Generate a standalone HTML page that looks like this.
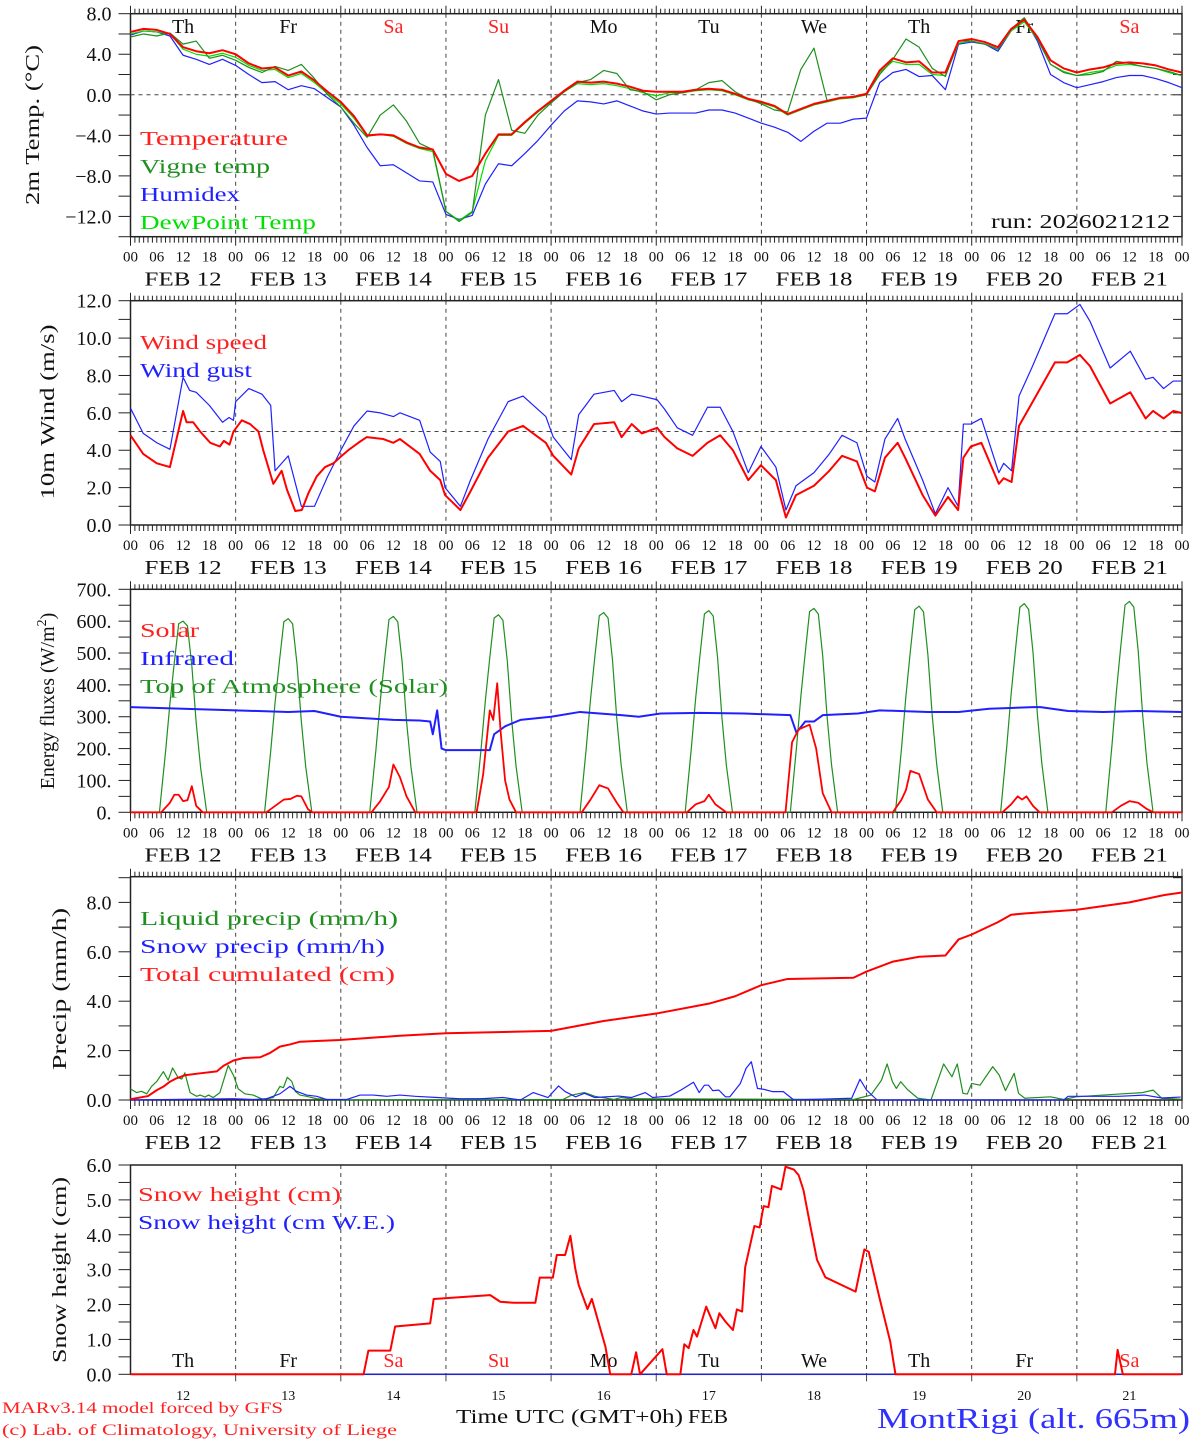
<!DOCTYPE html>
<html><head><meta charset="utf-8"><title>MontRigi forecast</title>
<style>
html,body{margin:0;padding:0;background:#fff;}
svg{display:block;}
text{font-family:"Liberation Serif",serif;}
</style></head>
<body>
<svg id="chart" xmlns="http://www.w3.org/2000/svg" width="1194" height="1440" viewBox="0 0 1194 1440"></svg>
<script>
// ---------- DATA ----------
const dayNames = ["Th","Fr","Sa","Su","Mo","Tu","We","Th","Fr","Sa"];
const dayNums = ["12","13","14","15","16","17","18","19","20","21"];
const hourTickLabels = ["00","06","12","18"];
const tempTicks = [8,4,0,-4,-8,-12];
const windTicks = [12,10,8,6,4,2,0];
const energyTicks = [700,600,500,400,300,200,100,0];
const precipTicks = [8,6,4,2,0];
const snowTicks = [6,5,4,3,2,1,0];

// temperature: 3-hourly from FEB 12 00 UTC
const tempHours = [0,3,6,9,12,15,18,21,24,27,30,33,36,39,42,45,48,51,54,57,60,63,66,69,72,75,78,81,84,87,90,93,96,99,102,105,108,111,114,117,120,123,126,129,132,135,138,141,144,147,150,153,156,159,162,165,168,171,174,177,180,183,186,189,192,195,198,201,204,207,210,213,216,219,222,225,228,231,234,237,240];
const temperature = [6.2,6.5,6.4,6.0,4.7,4.3,4.1,4.4, 4.0,3.1,2.6,2.7,1.9,2.3,1.4,0.3, -0.7,-2.1,-4.0,-3.9,-4.0,-4.7,-5.2,-5.4, -7.8,-8.5,-8.0,-5.8,-3.9,-3.9,-2.7,-1.6, -0.6,0.4,1.3,1.2,1.3,1.1,0.8,0.4, 0.3,0.3,0.3,0.5,0.6,0.5,0.1,-0.4, -0.7,-1.1,-1.9,-1.4,-0.9,-0.6,-0.3,-0.2, 0.1,2.4,3.6,3.2,3.3,2.2,2.2,5.3, 5.5,5.2,4.7,6.5,7.4,5.7,3.4,2.6, 2.2,2.5,2.7,3.1,3.2,3.1,2.9,2.5, 2.2];
const vigneTemp = [5.7,6.0,5.8,6.1,5.0,5.3,3.6,3.9, 3.4,2.7,2.2,2.8,2.4,3.0,1.6,0.0, -1.2,-2.8,-4.2,-2.0,-1.0,-2.6,-4.8,-5.4, -11.5,-12.5,-11.6,-2.0,1.5,-3.5,-3.8,-2.0, -0.8,0.3,1.2,1.5,2.4,2.1,0.5,0.3, -0.5,0.0,0.2,0.5,1.2,1.4,0.3,-0.4, -0.9,-1.5,-1.7,2.5,4.6,-0.6,-0.3,-0.2, 0.0,2.0,3.5,5.5,4.7,2.6,1.8,5.3, 5.3,5.0,4.5,6.5,7.6,5.5,3.0,2.2, 1.9,2.0,2.3,3.3,3.1,2.8,2.6,2.3, 1.9];
const humidex = [5.9,6.3,6.2,5.8,3.9,3.5,3.0,3.5, 2.9,2.0,1.2,1.3,0.5,0.9,0.6,-0.3, -1.2,-3.0,-5.2,-7.0,-6.9,-7.7,-8.5,-8.6, -11.8,-12.3,-11.9,-8.8,-6.8,-7.0,-5.8,-4.5, -3.0,-1.6,-0.6,-0.7,-0.9,-0.6,-1.1,-1.6, -1.9,-1.8,-1.8,-1.8,-1.5,-1.5,-1.8,-2.3, -2.8,-3.2,-3.7,-4.6,-3.6,-2.8,-2.8,-2.4, -2.3,1.2,2.2,2.5,1.8,1.9,0.5,5.0, 5.2,5.0,4.3,6.3,7.5,5.3,2.0,1.2, 0.7,1.0,1.3,1.7,1.9,1.9,1.6,1.2, 0.7];
const dewPoint = [6.0,6.3,6.2,6.0,4.5,4.0,3.8,4.1, 3.7,2.9,2.4,2.5,1.7,2.1,1.2,0.1, -0.9,-2.3,-4.1,-3.9,-4.1,-4.8,-5.3,-5.6, -11.5,-12.4,-11.5,-6.5,-4.0,-4.0,-2.8,-1.7, -0.7,0.3,1.1,1.0,1.1,0.9,0.6,0.2, -0.1,0.2,0.2,0.4,0.5,0.4,0.0,-0.5, -0.8,-1.2,-2.0,-1.5,-1.0,-0.7,-0.4,-0.3, 0.0,2.2,3.3,3.0,3.0,2.0,1.9,5.1, 5.3,5.0,4.5,6.3,7.2,5.5,3.0,2.3, 1.9,2.2,2.4,2.9,3.0,2.8,2.6,2.2, 1.9];

// wind
const speedHours = [0,2.9,6,9,12,12.8,14.3,15.9,18.2,20.4,21.3,22.6,23.5,25.4,27.3,29.2,30.3,32.6,34.5,35.7,37.6,39.1,40.6,42.5,44.4,46.3,48.2,49.7,52,53.9,57.7,60,61.5,66,68.4,70.7,71.8,75.3,77.6,81.6,86.2,89.6,94.8,96.5,100.6,102.3,105.8,110.4,112.1,114.4,116.7,120.2,121.9,124.8,128.3,131.7,134.6,137.5,141,143.9,147.3,149.6,151.9,156,159.5,162.4,165.8,168.1,169.9,172.2,175.1,176.8,180.8,183.7,186.6,188.9,190.1,191.8,194.2,195.3,198.2,199.3,201.1,202.8,205.7,211,213.8,216.7,219,223.6,228.2,231.7,233.4,235.8,238,239.8];
const windSpeed = [4.8,3.8,3.3,3.1,6.1,5.5,5.5,5.0,4.4,4.2,4.5,4.3,5.0,5.6,5.4,5.0,4.0,2.2,2.9,1.9,0.75,0.8,1.7,2.6,3.1,3.3,3.7,4.0,4.4,4.7,4.6,4.4,4.6,3.8,2.9,2.4,1.6,0.8,1.8,3.6,5.0,5.3,4.4,3.7,2.7,4.1,5.4,5.5,4.7,5.4,4.9,5.2,4.7,4.1,3.7,4.4,4.8,4.0,2.4,3.2,2.4,0.4,1.6,2.1,2.9,3.7,3.4,2.0,1.8,3.6,4.4,3.6,1.6,0.5,1.5,0.8,3.6,4.2,4.4,3.8,2.2,2.5,2.3,5.3,6.5,8.7,8.7,9.1,8.5,6.5,7.1,5.7,6.1,5.7,6.1,6.0];
const gustHours = [0,2.9,6,9,12,13.5,15,18,21,22.5,23.5,24,27,30,32,33,36,39,42,45,48,51,54,57,60,61.5,66,68.4,70.7,71.8,75.3,77.6,81.6,86.2,89.6,94.8,96.5,100.6,102.3,105.8,110.4,112.1,114.4,116.7,120.2,121.9,124.8,128.3,131.7,134.6,137.5,141,143.9,147.3,149.6,151.9,156,159.5,162.4,165.8,168.1,169.9,172.2,175.1,176.8,180.8,183.7,186.6,188.9,190.1,191.8,194.2,195.3,198.2,199.3,201.1,202.8,205.7,211,213.8,216.7,219,223.6,228.2,231.7,233.4,235.8,238,239.8];
const windGust = [6.25,4.9,4.4,4.05,7.9,7.2,7.1,6.4,5.5,5.75,5.6,6.6,7.3,7.0,6.4,2.9,3.7,1.0,1.0,2.6,4.0,5.3,6.1,6.0,5.8,6.0,5.6,3.9,3.4,2.0,1.0,2.4,4.6,6.6,6.9,5.8,4.7,3.5,5.9,7.0,7.2,6.6,7.0,6.9,6.7,6.2,5.2,4.8,6.3,6.3,5.0,2.8,4.2,3.1,0.8,2.1,2.8,3.8,4.8,4.4,2.6,2.3,4.6,5.7,4.6,2.4,0.6,2.0,1.0,5.4,5.4,5.7,4.9,2.8,3.3,2.9,6.9,8.4,11.3,11.3,11.8,10.9,8.4,9.3,7.8,7.9,7.3,7.7,7.7];

// energy fluxes
const solarHours = [0,7,9,10,11,12,13,14,15,16.5,31,33,35,36.5,38,39,40.5,41.5,55,57,59,60,61.5,63,65,79,80.5,82,82.8,83.7,84.5,85.5,86.5,88,103,105,107,109,111,112.5,127,129,131,132,133.5,135,136,149.5,151,152.5,155,156.5,158,160,174,176,177,178,180,182,184,199,201,202.5,203.5,204.5,206,207.5,224,226,228,230,232,233.5,240];
const solar = [0,0,30,55,55,35,38,82,20,0,0,20,40,42,52,50,10,0,0,35,80,150,110,50,0,0,120,320,290,405,250,100,40,0,0,40,85,75,30,0,0,25,35,55,25,10,0,0,220,260,275,200,60,0,0,40,70,130,120,40,0,0,25,50,40,50,20,0,0,20,35,30,10,0,0];
const infraredHours = [0,12,24,36,42,48,60,66,68.4,69,70,71,72,78,82,83,85.5,89,96,102.6,112,116,121,130,140,150.6,152,154,156,158,166,171,182,189,196,206,207.7,214,222,230,240];
const infrared = [330,325,320,315,318,300,290,288,285,245,320,200,195,195,195,245,270,290,300,315,305,300,310,312,310,305,250,285,285,305,310,320,315,315,325,330,330,318,315,318,315];
const toaHourOfDay = [6.6,8,9,10,11,12,13,14,15,16,17.4];
const toaDay1 = [0,190,342,470,592,600,585,460,280,140,0];
const toaDay2 = [0,192,345,475,598,608,592,466,284,142,0];
const toaDay3 = [0,194,348,480,605,615,598,471,287,144,0];
const toaDay4 = [0,196,351,485,610,620,603,475,290,145,0];
const toaDay5 = [0,198,355,490,617,627,610,480,293,147,0];
const toaDay6 = [0,200,359,495,623,633,616,485,296,148,0];
const toaDay7 = [0,202,363,500,630,640,622,490,299,150,0];
const toaDay8 = [0,204,367,506,636,647,629,495,302,152,0];
const toaDay9 = [0,206,371,512,644,655,637,501,306,154,0];
const toaDay10 = [0,208,375,517,651,662,644,507,309,155,0];

// precipitation
const liquidHours = [0,1.4,2.5,3.7,4.8,6,7.5,8.6,9.6,10.9,11.7,12.4,13.6,15.1,15.9,17,17.8,18.9,20.4,22.3,23.5,24.6,26.1,28,30.3,32.6,34.1,34.9,35.8,36.8,37.6,38.7,40.2,42.5,46.3,98.7,100.7,103.6,106,110.4,111.9,114.3,165.1,169,171.4,172.7,173.9,174.8,175.8,177.3,179.7,182.7,185.6,187.5,188.7,190,191,192,193.9,196.8,198.3,199.7,201.7,202.7,204.1,210,213,215.8,224.6,231,233.4,235.4,239.7];
const liquidPrecip = [0.45,0.3,0.35,0.25,0.55,0.75,1.15,0.8,1.3,0.9,0.85,1.1,0.3,0.15,0.2,0.12,0.2,0.1,0.3,1.4,1.0,0.45,0.25,0.2,0.02,0.1,0.55,0.5,0.92,0.75,0.35,0.2,0.15,0.05,0,0.02,0.2,0.3,0.15,0.02,0.1,0.05,0.02,0.2,0.8,1.46,0.74,0.47,0.74,0.43,0.07,0,1.46,0.94,1.46,0.27,0.24,0.67,0.6,1.35,1.0,0.38,1.08,0.27,0.07,0.13,0.02,0.13,0.23,0.3,0.4,0.07,0.03];
const snowHours = [0,23.5,28,31,34.1,36.4,37.9,40.2,42.5,44.8,49.3,52.4,55.4,58.5,61.5,65,70,75,80,85,89,91.9,95.3,97.7,99.2,101.6,103.6,106,111.4,114.3,117.5,119.2,123.1,125.6,128.5,129.8,131,131.9,132.9,134.3,135.8,136.8,139.2,140.5,141.7,143.1,144.6,146.5,149,151.4,164.6,166.5,168,170.4,213,214,225.6,231.5,235.4,239.7];
const snowPrecip = [0,0.05,0.02,0.05,0.25,0.55,0.35,0.2,0.15,0.02,0.02,0.2,0.2,0.15,0.2,0.15,0.1,0.05,0.05,0.1,0,0.3,0.1,0.57,0.34,0.13,0.27,0.1,0.16,0.1,0.3,0.1,0.16,0.4,0.72,0.3,0.6,0.6,0.38,0.4,0.13,0.13,0.67,1.28,1.55,0.47,0.43,0.34,0.34,0,0.07,0.84,0.4,0,0,0.15,0.15,0.2,0.08,0.12];
const cumHours = [0,4,6,7.5,9,10.5,12.4,15.9,19.7,21.2,23.5,25.8,29.6,31.8,34.1,36.4,38.7,42.5,47.8,61.5,72,96,108,120,132,138,142,144,150,165,168,174,180,186,189,192,198,201,204,216,228,236,240];
const totalCum = [0.03,0.16,0.4,0.54,0.74,0.88,1.0,1.08,1.16,1.38,1.6,1.7,1.73,1.9,2.16,2.25,2.36,2.39,2.43,2.6,2.7,2.8,3.2,3.5,3.9,4.2,4.5,4.65,4.9,4.95,5.2,5.6,5.8,5.85,6.5,6.7,7.2,7.5,7.55,7.7,8.0,8.3,8.4];

// snow height
const snowHHours = [0,53.2,54.3,59.3,60.4,68.4,69.2,82.1,84.4,87.4,92.4,93.4,96.4,97.3,99.2,100.4,101.5,102.3,104.3,105.3,108.4,109.5,114.3,115.4,116.3,121.4,122.4,125.5,126.4,127.4,128.5,129.3,131.4,133.5,134.4,135.8,137.5,138.4,139.6,140.3,142.4,143.6,144.5,145.6,146.4,148.5,149.5,151.4,152.5,153.6,155.2,156.7,158.6,165.5,167.5,168.5,170.8,173.4,174.6,224.7,225.3,226.5,239.8];
const snowHeight = [0,0,0.68,0.68,1.37,1.46,2.16,2.27,2.08,2.05,2.05,2.77,2.77,3.42,3.42,3.97,3.04,2.56,1.87,2.16,0.79,0,0,0.63,0,0.72,0,0,0.86,0.75,1.27,1.08,1.94,1.32,1.75,1.51,1.27,1.86,1.8,3.07,4.25,4.21,4.82,4.79,5.4,5.3,5.95,5.87,5.71,5.28,4.23,3.28,2.78,2.37,3.58,3.51,2.27,0.94,0,0,0.7,0,0];
const snowWEHours = [0,240];
const snowWE = [0,0];

// ---------- LAYOUT ----------
const SVGNS = "http://www.w3.org/2000/svg";
const svg = document.getElementById("chart");
const X0 = 130.5, X1 = 1182, HMAX = 240;
function xh(h){ return X0 + (X1 - X0) * h / HMAX; }
const P1 = {top:13.7, bot:236.7, min:-14, max:8};
const P2 = {top:300.7, bot:525, min:0, max:12};
const P3 = {top:589.3, bot:812.3, min:0, max:700};
const P4 = {top:876.7, bot:1100, min:0, max:9.04};
const P5 = {top:1165, bot:1374.3, min:0, max:6};
function yv(p, v){ return p.bot - (v - p.min) / (p.max - p.min) * (p.bot - p.top); }

function mk(tag, attrs, name, parent){
  const el = document.createElementNS(SVGNS, tag);
  for (const k in attrs) el.setAttribute(k, attrs[k]);
  
  
  (parent || svg).appendChild(el);
  return el;
}
function txt(x, y, s, size, color, anchor, name, tl){
  const a = {x:x, y:y, 'font-size':size, fill:color, 'text-anchor':anchor||'start'};
  if (tl) { a.textLength = tl; a.lengthAdjust = 'spacingAndGlyphs'; }
  const el = mk('text', a, name);
  el.textContent = s;
  return el;
}
function series(p, hours, vals, color, w, name){
  let d = '';
  for (let i = 0; i < hours.length; i++) d += (i ? 'L' : 'M') + xh(hours[i]).toFixed(2) + ' ' + yv(p, vals[i]).toFixed(2);
  return mk('path', {d:d, fill:'none', stroke:color, 'stroke-width':w, 'stroke-linejoin':'round'}, name);
}

function frame(p, pname, ticks, labelFmt, minorStep, hasHourTicks){
  // day grid lines
  for (let d = 1; d < 10; d++){
    const x = xh(d * 24);
    mk('line', {x1:x, y1:p.top, x2:x, y2:p.bot, stroke:'#444', 'stroke-width':1, 'stroke-dasharray':'4,4'}, pname + '-day-gridline');
  }
  // left/right ticks
  for (let v = p.min; v <= p.max + 1e-6; v += minorStep){
    const y = yv(p, v);
    mk('line', {x1:X0 - 12, y1:y, x2:X0, y2:y, stroke:'#222', 'stroke-width':1}, pname + '-y-tick');
    mk('line', {x1:X1 - 9, y1:y, x2:X1, y2:y, stroke:'#222', 'stroke-width':1}, pname + '-y-tick-right');
  }
  ticks.forEach(function(v){
    const y = yv(p, v);
    txt(X0 - 19, y + 7, labelFmt(v), 20, '#111', 'end', pname + '-y-tick-label');
  });
  if (hasHourTicks){
    for (let h = 0; h <= HMAX; h++){
      const x = xh(h);
      const big = (h % 24 === 0);
      mk('line', {x1:x, y1:p.top, x2:x, y2:p.top - (big ? 8 : 5), stroke:'#222', 'stroke-width':1}, pname + '-top-tick');
      mk('line', {x1:x, y1:p.bot, x2:x, y2:p.bot + (big ? 9 : 6), stroke:'#222', 'stroke-width':1}, pname + '-bottom-tick');
    }
    for (let h = 0; h <= HMAX; h += 6){
      txt(xh(h), p.bot + 25, hourTickLabels[(h / 6) % 4], 15, '#111', 'middle', pname + '-hour-label');
    }
    for (let d = 0; d < 10; d++){
      txt(xh(d * 24 + 12), p.bot + 49, 'FEB ' + dayNums[d], 20, '#111', 'middle', pname + '-date-label', 77);
    }
  }
  mk('rect', {x:X0, y:p.top, width:X1 - X0, height:p.bot - p.top, fill:'none', stroke:'#222', 'stroke-width':1.5}, pname + '-frame');
}
function fmt1(v){ return (v < 0 ? '\u2212' : '') + Math.abs(v).toFixed(1); }
function fmt0(v){ return v + '.'; }

// ---------- PANEL 1: temperature ----------
frame(P1, 'temp-panel', tempTicks, fmt1, 2, true);
mk('line', {x1:X0, y1:yv(P1,0), x2:X1, y2:yv(P1,0), stroke:'#444', 'stroke-width':1, 'stroke-dasharray':'4,4'}, 'zero-degree-line');
for (let d = 0; d < 10; d++){
  txt(xh(d*24+12), 33, dayNames[d], 20, (dayNames[d]==='Sa'||dayNames[d]==='Su') ? '#ff2020' : '#111', 'middle', 'weekday-label');
}
series(P1, tempHours, humidex, '#2020ff', 1.2, 'humidex-line');
series(P1, tempHours, dewPoint, '#00e000', 1.2, 'dewpoint-line');
series(P1, tempHours, vigneTemp, '#1f8f1f', 1.2, 'vigne-temp-line');
series(P1, tempHours, temperature, '#ff0000', 2, 'temperature-line');
txt(140, 145, 'Temperature', 20, '#ff2020', 'start', 'legend-temperature', 148);
txt(140, 173, 'Vigne temp', 20, '#1f8f1f', 'start', 'legend-vigne-temp', 130);
txt(140, 201, 'Humidex', 20, '#2020ff', 'start', 'legend-humidex', 100);
txt(140, 229, 'DewPoint Temp', 20, '#00e000', 'start', 'legend-dewpoint', 176);
txt(991, 228, 'run: 2026021212', 20, '#111', 'start', 'run-label', 179);
(function(){ const t = txt(0, 0, '2m Temp. (\u00B0C)', 20, '#111', 'middle', 'temp-y-axis-title', 160); t.setAttribute('transform', 'translate(39,125) rotate(-90)'); })();

// ---------- PANEL 2: wind ----------
frame(P2, 'wind-panel', windTicks, fmt1, 1, true);
mk('line', {x1:X0, y1:yv(P2,5), x2:X1, y2:yv(P2,5), stroke:'#444', 'stroke-width':1, 'stroke-dasharray':'4,4'}, 'wind-reference-line');
series(P2, gustHours, windGust, '#2020ff', 1.2, 'wind-gust-line');
series(P2, speedHours, windSpeed, '#ff0000', 2, 'wind-speed-line');
txt(140, 349, 'Wind speed', 20, '#ff2020', 'start', 'legend-wind-speed', 127);
txt(140, 377, 'Wind gust', 20, '#2020ff', 'start', 'legend-wind-gust', 112);
(function(){ const t = txt(0, 0, '10m Wind (m/s)', 20, '#111', 'middle', 'wind-y-axis-title', 175); t.setAttribute('transform', 'translate(54,412) rotate(-90)'); })();

// ---------- PANEL 3: energy ----------
frame(P3, 'energy-panel', energyTicks, fmt0, 50, true);
const toaRows = [toaDay1,toaDay2,toaDay3,toaDay4,toaDay5,toaDay6,toaDay7,toaDay8,toaDay9,toaDay10];
(function(){
  const hrs = [0], vals = [0];
  toaRows.forEach(function(row, d){ row.forEach(function(v, i){ hrs.push(d*24 + toaHourOfDay[i]); vals.push(v); }); });
  hrs.push(240); vals.push(0);
  series(P3, hrs, vals, '#1f8f1f', 1.2, 'toa-solar-line');
})();
series(P3, infraredHours, infrared, '#2020ff', 2, 'infrared-line');
series(P3, solarHours, solar, '#ff0000', 1.8, 'solar-line');
txt(140, 637, 'Solar', 20, '#ff2020', 'start', 'legend-solar', 59);
txt(140, 665, 'Infrared', 20, '#2020ff', 'start', 'legend-infrared', 94);
txt(140, 693, 'Top of Atmosphere (Solar)', 20, '#1f8f1f', 'start', 'legend-toa', 308);
(function(){
  const t = mk('text', {'font-size':20, fill:'#111', 'text-anchor':'middle', transform:'translate(54,701) rotate(-90)'}, 'energy-y-axis-title');
  const a = document.createElementNS(SVGNS, 'tspan'); a.textContent = 'Energy fluxes (W/m'; t.appendChild(a);
  const b = document.createElementNS(SVGNS, 'tspan'); b.setAttribute('dy', -8); b.setAttribute('font-size', 14); b.textContent = '2'; t.appendChild(b);
  const c = document.createElementNS(SVGNS, 'tspan'); c.setAttribute('dy', 8); c.textContent = ')'; t.appendChild(c);
})();

// ---------- PANEL 4: precip ----------
frame(P4, 'precip-panel', precipTicks, fmt1, 1, true);
series(P4, liquidHours, liquidPrecip, '#1f8f1f', 1.2, 'liquid-precip-line');
series(P4, snowHours, snowPrecip, '#2020ff', 1.2, 'snow-precip-line');
series(P4, cumHours, totalCum, '#ff0000', 2, 'total-cumulated-line');
txt(140, 925, 'Liquid precip (mm/h)', 20, '#1f8f1f', 'start', 'legend-liquid-precip', 258);
txt(140, 953, 'Snow precip (mm/h)', 20, '#2020ff', 'start', 'legend-snow-precip', 245);
txt(140, 981, 'Total cumulated (cm)', 20, '#ff2020', 'start', 'legend-total-cumulated', 255);
(function(){ const t = txt(0, 0, 'Precip (mm/h)', 20, '#111', 'middle', 'precip-y-axis-title', 162); t.setAttribute('transform', 'translate(66,989) rotate(-90)'); })();

// ---------- PANEL 5: snow height ----------
frame(P5, 'snow-panel', snowTicks, fmt1, 0.5, false);
for (let d = 1; d < 10; d++){
  mk('line', {x1:xh(d*24), y1:P5.bot, x2:xh(d*24), y2:P5.bot + 7, stroke:'#444', 'stroke-width':1}, 'snow-day-tick');
}
for (let d = 0; d < 10; d++){
  txt(xh(d*24+12), 1367, dayNames[d], 20, (dayNames[d]==='Sa'||dayNames[d]==='Su') ? '#ff2020' : '#111', 'middle', 'snow-weekday-label');
  txt(xh(d*24+12), 1400, dayNums[d], 14, '#111', 'middle', 'snow-day-number');
}
series(P5, snowWEHours, snowWE, '#2020ff', 1.2, 'snow-we-line');
series(P5, snowHHours, snowHeight, '#ff0000', 2, 'snow-height-line');
txt(138, 1201, 'Snow height (cm)', 20, '#ff2020', 'start', 'legend-snow-height', 203);
txt(138, 1229, 'Snow height (cm W.E.)', 20, '#2020ff', 'start', 'legend-snow-we', 257);
(function(){ const t = txt(0, 0, 'Snow height (cm)', 20, '#111', 'middle', 'snow-y-axis-title', 186); t.setAttribute('transform', 'translate(66,1270) rotate(-90)'); })();

// ---------- footer ----------
txt(456, 1423, 'Time UTC (GMT+0h)', 20, '#111', 'start', 'x-axis-title', 227);
txt(688, 1423, 'FEB', 20, '#111', 'start', 'x-axis-month', 40);
txt(2, 1413, 'MARv3.14 model forced by GFS', 16, '#ff2020', 'start', 'model-credit', 281);
txt(2, 1435, '(c) Lab. of Climatology, University of Liege', 16, '#ff2020', 'start', 'copyright-credit', 395);
txt(877, 1428, 'MontRigi (alt. 665m)', 29, '#3030ff', 'start', 'station-name', 313);
</script>
</body></html>
